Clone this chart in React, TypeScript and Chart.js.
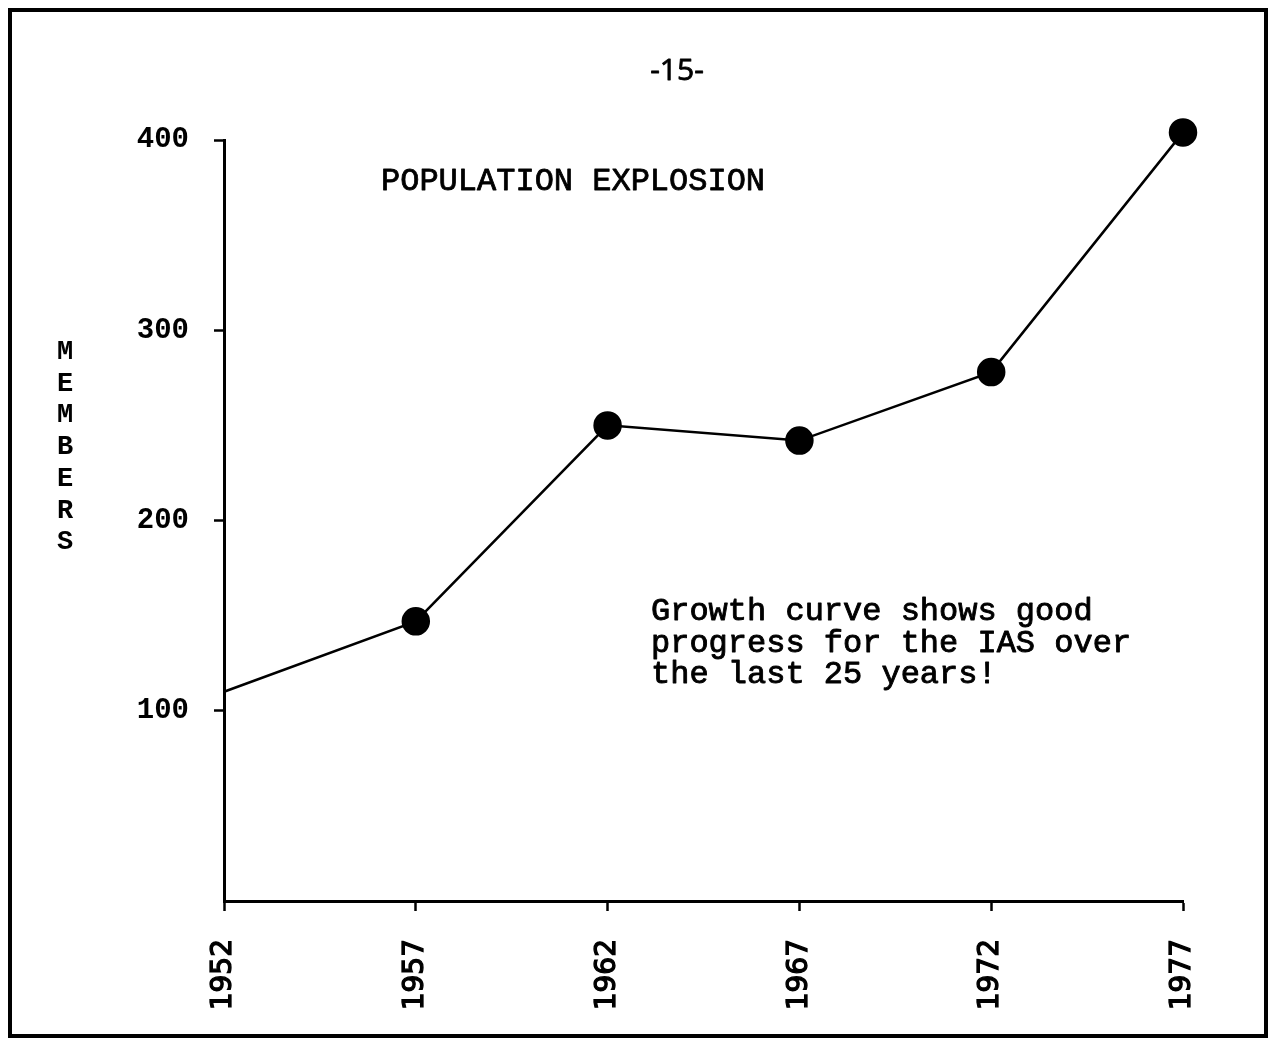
import React, { useEffect, useRef } from "react";
import { Chart, registerables } from "chart.js";

Chart.register(...registerables);

const years = [1952, 1957, 1962, 1967, 1972, 1977];
const members = [110, 147, 250, 242, 278, 404];
const pointSizes = [0, 13, 13, 13, 13, 13];
const yTickValues = [100, 200, 300, 400];
const pageLabel = "-15-";
const titleText = "POPULATION EXPLOSION";
const noteLines = [
  "Growth curve shows good",
  "progress for the IAS over",
  "the last 25 years!",
];
const axisTitle = "MEMBERS";

const MONO = '"Liberation Mono", "DejaVu Sans Mono", monospace';
const SANS = '"DejaVu Sans", sans-serif';

function heavyText(ctx: any, s: string, x: number, y: number, w: number) {
  ctx.fillText(s, x, y);
  if (w > 0) {
    ctx.lineWidth = w;
    ctx.strokeText(s, x, y);
  }
}

const decorPlugin = {
  id: "decor",
  afterDraw(chart: any) {
    const ctx = chart.ctx;
    ctx.save();
    // page frame
    ctx.strokeStyle = "#000";
    ctx.lineWidth = 4;
    ctx.strokeRect(10, 10, 1256, 1026);
    ctx.fillStyle = "#000";
    ctx.lineJoin = "round";
    // page number
    ctx.font = '30px "Open Sans", sans-serif';
    ctx.textAlign = "center";
    ctx.textBaseline = "alphabetic";
    heavyText(ctx, pageLabel, 677, 80, 0.8);
    // title
    ctx.textAlign = "left";
    ctx.font = `32px ${MONO}`;
    heavyText(ctx, titleText, 381, 190, 0.8);
    // note
    ctx.font = `32px ${MONO}`;
    noteLines.forEach((l, i) => heavyText(ctx, l, 651, 620 + i * 31.5, 0.9));
    // vertical axis title
    ctx.font = `bold 27px ${MONO}`;
    ctx.textAlign = "center";
    axisTitle.split("").forEach((ch, i) => ctx.fillText(ch, 65, 359 + i * 31.7));
    ctx.restore();
  },
};

export default function App() {
  const ref = useRef<HTMLCanvasElement>(null);
  useEffect(() => {
    document.body.style.margin = "0";
    const chart = new Chart(ref.current!, {
      type: "line",
      data: {
        datasets: [
          {
            data: years.map((y, i) => ({ x: y, y: members[i] })),
            borderColor: "#000",
            borderWidth: 2.5,
            backgroundColor: "#000",
            pointBackgroundColor: "#000",
            pointBorderColor: "#000",
            pointRadius: pointSizes,
            tension: 0,
            clip: false as any,
          },
        ],
      },
      options: {
        animation: false,
        responsive: false,
        devicePixelRatio: 1,
        layout: { padding: { top: 140, right: 89, left: 0, bottom: 0 } },
        plugins: { legend: { display: false }, tooltip: { enabled: false } },
        scales: {
          x: {
            type: "linear",
            min: years[0],
            max: years[years.length - 1],
            afterBuildTicks: (s: any) => {
              s.ticks = years.map((v) => ({ value: v }));
            },
            afterFit: (s: any) => {
              s.height = 142;
            },
            grid: {
              display: true,
              drawOnChartArea: false,
              drawTicks: true,
              tickLength: 10,
              tickColor: "#000",
              tickWidth: 2.5,
            },
            border: { display: true, color: "#000", width: 3 },
            ticks: {
              minRotation: 90,
              maxRotation: 90,
              padding: 28,
              color: "#000",
              textStrokeColor: "#000",
              textStrokeWidth: 1.3,
              font: { family: SANS, size: 28, weight: "normal" },
              callback: (v: any) => String(v),
            },
          },
          y: {
            min: 0,
            max: 400,
            afterBuildTicks: (s: any) => {
              s.ticks = yTickValues.map((v) => ({ value: v }));
            },
            afterFit: (s: any) => {
              s.width = 224;
            },
            grid: {
              display: true,
              drawOnChartArea: false,
              drawTicks: true,
              tickLength: 10,
              tickColor: "#000",
              tickWidth: 2.5,
            },
            border: { display: true, color: "#000", width: 3 },
            ticks: {
              padding: 25,
              color: "#000",
              font: { family: MONO, size: 29, weight: "bold" },
            },
          },
        },
      },
      plugins: [decorPlugin],
    });
    return () => chart.destroy();
  }, []);
  return (
    <div style={{ width: 1272, height: 1043, background: "#fff" }}>
      <canvas ref={ref} width={1272} height={1043} style={{ display: "block" }} />
    </div>
  );
}
